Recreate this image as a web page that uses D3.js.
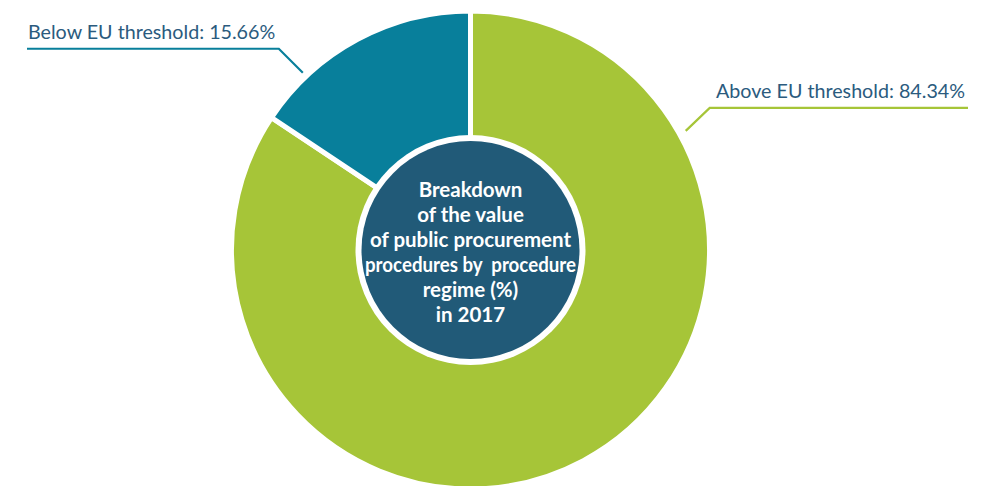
<!DOCTYPE html>
<html>
<head>
<meta charset="utf-8">
<script src="https://cdn.jsdelivr.net/npm/d3@7"></script>
<style>
  html, body { margin: 0; padding: 0; background: #ffffff; }
  svg { display: block; }
</style>
</head>
<body>
<svg id="chart" width="985" height="486"></svg>
<script>
// Procedure regime shares of public procurement value, 2017
const categories = ["Above EU threshold", "Below EU threshold"];
const shares = [84.34, 15.66];
const sliceColors = ["#a6c538", "#087f9b"];
const titleLines = [
  "Breakdown",
  "of the value",
  "of public procurement",
  "procedures by  procedure",
  "regime (%)",
  "in 2017"
];

const svg = d3.select("#chart");
const cx = 470.5, cy = 250;
const outerR = 239;
const holeR = 115;   // white ring around the centre disc
const discR = 109;   // dark centre disc

const g = svg.append("g").attr("transform", `translate(${cx},${cy})`);

const pie = d3.pie().sort(null).value(d => d.value);
const data = categories.map((c, i) => ({ name: c, value: shares[i], color: sliceColors[i] }));
const arcs = pie(data);

const arc = d3.arc().innerRadius(0).outerRadius(outerR);

g.selectAll("path.slice")
  .data(arcs)
  .join("path")
  .attr("class", "slice")
  .attr("d", arc)
  .attr("fill", d => d.data.color)
  .attr("stroke", "#ffffff")
  .attr("stroke-width", 5)
  .attr("stroke-linejoin", "miter");

// centre: white ring then dark disc
g.append("circle").attr("r", holeR).attr("fill", "#ffffff");
g.append("circle").attr("r", discR).attr("fill", "#215a78");

const title = g.append("text")
  .attr("text-anchor", "middle")
  .attr("fill", "#ffffff")
  .style("font-family", "Lato, 'Open Sans', sans-serif")
  .style("font-weight", 700)
  .style("font-size", "20.5px");
titleLines.forEach((line, i) => {
  const t = title.append("tspan")
    .attr("x", 0)
    .attr("y", -53 + i * 25)
    .attr("xml:space", "preserve")
    .text(line);
  // keep the widest line inside the disc
  if (line.length > 22) t.attr("textLength", 211).attr("lengthAdjust", "spacingAndGlyphs");
});

// leader lines and labels
const labelColor = "#2b5b7e";
const labelFont = "Lato, 'Open Sans', sans-serif";
const labelSize = "19.7px";

function edgePoint(angle, r) {
  return [cx + r * Math.sin(angle), cy - r * Math.cos(angle)];
}

// Below EU threshold: label to the upper left
{
  const d = arcs[1];
  const a = d.startAngle + (d.endAngle - d.startAngle) * 0.23;
  const p0 = edgePoint(a, outerR + 5);
  const elbow = [p0[0] - 24, p0[1] - 24];
  svg.append("polyline")
    .attr("points", [p0, elbow, [27, elbow[1]]].map(p => p.join(",")).join(" "))
    .attr("fill", "none")
    .attr("stroke", d.data.color)
    .attr("stroke-width", 2.2);
  svg.append("text")
    .attr("x", 28).attr("y", 39)
    .attr("fill", labelColor)
    .style("font-family", labelFont)
    .style("font-size", labelSize)
    .text(`${d.data.name}: ${d.data.value.toFixed(2)}%`);
}

// Above EU threshold: label to the upper right
{
  const d = arcs[0];
  const a = d.startAngle + (d.endAngle - d.startAngle) * 0.201;
  const p0 = edgePoint(a, outerR + 7);
  const elbow = [p0[0] + 24, p0[1] - 23];
  svg.append("polyline")
    .attr("points", [p0, elbow, [968, elbow[1]]].map(p => p.join(",")).join(" "))
    .attr("fill", "none")
    .attr("stroke", d.data.color)
    .attr("stroke-width", 2.2);
  svg.append("text")
    .attr("x", 716).attr("y", 98)
    .attr("fill", labelColor)
    .style("font-family", labelFont)
    .style("font-size", labelSize)
    .text(`${d.data.name}: ${d.data.value.toFixed(2)}%`);
}
</script>
</body>
</html>
